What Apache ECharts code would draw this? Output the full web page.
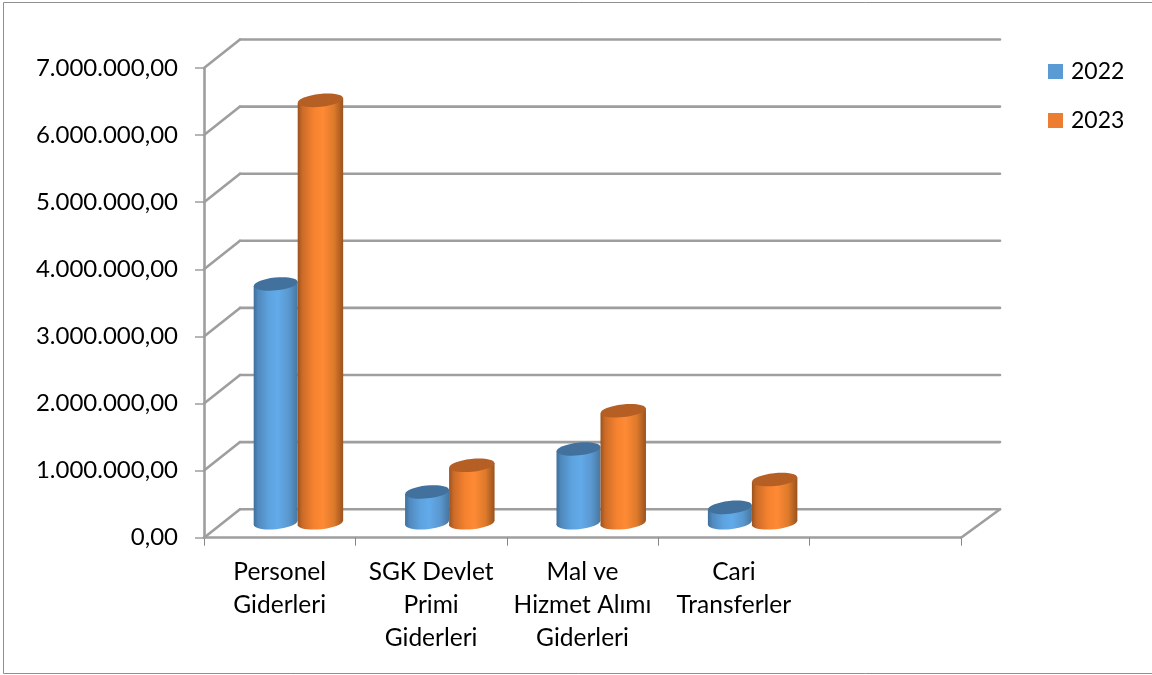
<!DOCTYPE html>
<html><head><meta charset="utf-8">
<style>html,body{margin:0;padding:0;background:#fff}#c{width:1152px;height:675px}</style>
<script src="https://cdn.jsdelivr.net/npm/echarts@6/dist/echarts.min.js"></script>
</head><body><div id="c"></div>
<script>
const categories = ['Personel\nGiderleri', 'SGK Devlet\nPrimi\nGiderleri', 'Mal ve\nHizmet Alımı\nGiderleri', 'Cari\nTransferler', ''];
const values2022 = [3560000, 460000, 1100000, 230000];
const values2023 = [6295000, 857000, 1670000, 645000];
const yTicks = [0, 1000000, 2000000, 3000000, 4000000, 5000000, 6000000, 7000000];

const FONT = 'Lato';
const DEPTH_X = 36, DEPTH_Y = 28.5;
const GRAY = '#9e9e9e';

function fmt(v) {
  return Math.round(v).toString().replace(/\B(?=(\d{3})+$)/g, '.') + ',00';
}
function wallItem(params, api) {
  const cs = params.coordSys;
  const p = api.coord([0, api.value(1)]);
  const y = p[1], x0 = cs.x, x1 = cs.x + cs.width;
  const line = (a, b, c, d) => ({ type: 'line', shape: { x1: a, y1: b, x2: c, y2: d },
    style: { stroke: GRAY, lineWidth: 2.6, lineCap: 'round' } });
  const kids = [
    line(x0, y, x0 + DEPTH_X, y - DEPTH_Y),
    line(x0 + DEPTH_X, y - DEPTH_Y, x1 + DEPTH_X + 3, y - DEPTH_Y)
  ];
  if (api.value(1) === 0) kids.push(line(x1, y, x1 + DEPTH_X + 3, y - DEPTH_Y));
  return { type: 'group', children: kids };
}
function cylinder(side, widthDiv, stops, topColor) {
  const offsets = [0, 0.1, 0.35, 0.55, 0.8, 1];
  return function (params, api) {
    const band = api.size([1, 0])[0];
    const w = band / widthDiv, r = w / 2, ry = 6.4, tilt = 0.105;
    const dy = r * Math.sin(tilt);
    const base = api.coord([api.value(0), 0]);
    const top = api.coord([api.value(0), api.value(1)]);
    const cx = base[0] + DEPTH_X / 2 + side * r;
    const by = base[1] - DEPTH_Y / 2 - ry * 0.1, ty = top[1] - DEPTH_Y / 2 - ry * 0.1;
    const grad = { type: 'linear', x: 0, y: 0, x2: 1, y2: 0,
      colorStops: stops.map((c, i) => ({ offset: offsets[i], color: c })) };
    return { type: 'group', children: [
      { type: 'ellipse', x: cx, y: by, rotation: tilt, shape: { cx: 0, cy: 0, rx: r, ry: ry }, style: { fill: grad } },
      { type: 'polygon', shape: { points: [[cx - r, ty + dy], [cx + r, ty - dy], [cx + r, by - dy], [cx - r, by + dy]] }, style: { fill: grad } },
      { type: 'ellipse', x: cx, y: ty, rotation: tilt, shape: { cx: 0, cy: 0, rx: r, ry: ry }, style: { fill: topColor } }
    ] };
  };
}
const chart = echarts.init(document.getElementById('c'), null, { renderer: 'canvas' });
chart.setOption({
  animation: false,
  backgroundColor: '#fff',
  textStyle: { fontFamily: FONT },
  graphic: [{ type: 'rect', shape: { x: 3.5, y: 2.5, width: 1200, height: 671 }, style: { fill: 'none', stroke: '#8f8f8f', lineWidth: 1 }, silent: true }],
  grid: { left: 204, right: 191, top: 68, bottom: 137.3, containLabel: false },
  legend: {
    left: 1048, top: 60, padding: 0, orient: 'vertical', itemWidth: 15, itemHeight: 15, itemGap: 26, icon: 'rect',
    data: ['2022', '2023'],
    textStyle: { fontFamily: FONT, fontSize: 23, color: '#000', padding: [0, 0, 0, 3] }
  },
  xAxis: {
    type: 'category', data: categories,
    axisLine: { lineStyle: { color: GRAY, width: 2.6 } },
    axisTick: { show: true, alignWithLabel: false, interval: 0, length: 8, lineStyle: { color: '#868686', width: 1 } },
    axisLabel: { interval: 0, margin: 18, fontFamily: FONT, fontSize: 24.5, lineHeight: 33, color: '#000' }
  },
  yAxis: {
    type: 'value', min: 0, max: 7000000, interval: 1000000,
    axisLine: { show: true, lineStyle: { color: GRAY, width: 2.6 } },
    axisTick: { show: true, length: 9, lineStyle: { color: GRAY, width: 1.5 } },
    splitLine: { show: false },
    axisLabel: { margin: 26, fontFamily: FONT, fontSize: 24, color: '#000', formatter: fmt }
  },
  series: [
    { name: 'wall', type: 'custom', silent: true, clip: false, z: 1, renderItem: wallItem, data: yTicks.map(t => [0, t]) },
    { name: '2022', type: 'custom', clip: false, z: 3, itemStyle: { color: '#5b9bd5' },
      renderItem: cylinder(-1, 3.44, ['#3d6f9c', '#5089bd', '#5da3e0', '#62aae9', '#5a97cf', '#47779f'], '#41719c'),
      data: values2022.map((v, i) => [i, v]) },
    { name: '2023', type: 'custom', clip: false, z: 4, itemStyle: { color: '#ed7d31' },
      renderItem: cylinder(1, 3.33, ['#9a521e', '#cb6b28', '#f5822f', '#ff8a35', '#dd7a2b', '#9a521e'], '#b55f24'),
      data: values2023.map((v, i) => [i, v]) }
  ]
});
</script></body></html>
